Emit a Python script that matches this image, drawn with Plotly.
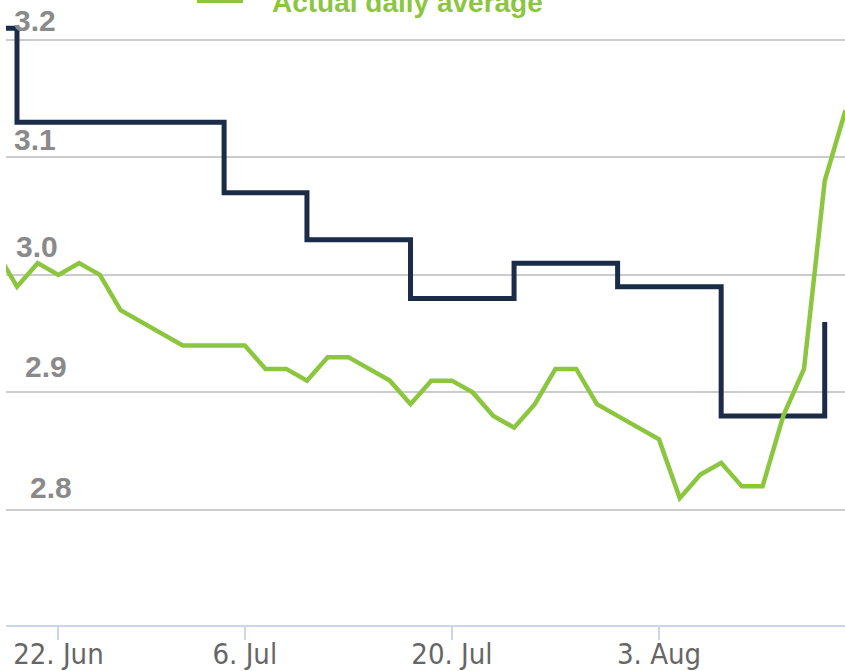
import plotly.graph_objects as go

# ---------------- data ----------------
daily_dates = [
    "2015-06-17", "2015-06-18", "2015-06-19", "2015-06-22", "2015-06-23", "2015-06-24",
    "2015-06-25", "2015-06-26", "2015-06-29", "2015-06-30", "2015-07-01", "2015-07-02",
    "2015-07-06", "2015-07-07", "2015-07-08", "2015-07-09", "2015-07-10", "2015-07-13",
    "2015-07-14", "2015-07-15", "2015-07-16", "2015-07-17", "2015-07-20", "2015-07-21",
    "2015-07-22", "2015-07-23", "2015-07-24", "2015-07-27", "2015-07-28", "2015-07-29",
    "2015-07-30", "2015-07-31", "2015-08-03", "2015-08-04", "2015-08-05", "2015-08-06",
    "2015-08-07", "2015-08-10", "2015-08-11", "2015-08-12", "2015-08-13", "2015-08-14",
]
daily_values = [
    3.02, 2.99, 3.01, 3.00, 3.01, 3.00,
    2.97, 2.96, 2.95, 2.94, 2.94, 2.94,
    2.94, 2.92, 2.92, 2.91, 2.93, 2.93,
    2.92, 2.91, 2.89, 2.91, 2.91, 2.90,
    2.88, 2.87, 2.89, 2.92, 2.92, 2.89,
    2.88, 2.87, 2.86, 2.81, 2.83, 2.84,
    2.82, 2.82, 2.88, 2.92, 3.08, 3.14,
]

weekly_dates = [
    "2015-06-11", "2015-06-18", "2015-06-25", "2015-07-02", "2015-07-09",
    "2015-07-16", "2015-07-23", "2015-07-30", "2015-08-06", "2015-08-13",
]
weekly_values = [3.21, 3.13, 3.13, 3.07, 3.03, 2.98, 3.01, 2.99, 2.88, 2.96]

holidays = ["2015-07-03"]

x_tick_dates = ["2015-06-22", "2015-07-06", "2015-07-20", "2015-08-03"]
x_tick_labels = ["22. Jun", "6. Jul", "20. Jul", "3. Aug"]

y_tick_values = [2.8, 2.9, 3.0, 3.1, 3.2]
y_tick_labels = ["2.8", "2.9", "3.0", "3.1", "3.2"]

legend_label = "Actual daily average"

# ---------------- styles ----------------
GREEN = "#8cc63f"
NAVY = "#1a2c47"
GRID = "#cccccc"
AXIS = "#ccd6eb"
YLAB = "#8a8a8a"
XLAB = "#666666"

W, H = 845, 671
ML, MR, MT, MB = 6, 0, 0, 46
PW = W - ML - MR

# per-label pixel placement (x of left edge, gap above gridline)
ylab_x = [31, 26, 17, 15, 15]
ylab_gap = [11, 14, 17, 6, 8]

fig = go.Figure()

fig.add_trace(go.Scatter(
    x=weekly_dates, y=weekly_values, mode="lines",
    line=dict(color=NAVY, width=5, shape="hv"),
    name="Weekly", showlegend=False, hoverinfo="skip",
))
fig.add_trace(go.Scatter(
    x=daily_dates, y=daily_values, mode="lines",
    line=dict(color=GREEN, width=4.5),
    name=legend_label, showlegend=False, hoverinfo="skip",
))

for v, t, lx, gap in zip(y_tick_values, y_tick_labels, ylab_x, ylab_gap):
    fig.add_annotation(
        x=0, xref="paper", y=v, yref="y", text=t, showarrow=False,
        xanchor="left", yanchor="bottom", xshift=lx - ML - 3, yshift=gap - 7,
        font=dict(family="Liberation Sans, Arial, sans-serif", size=30, color=YLAB, weight="bold"),
    )

# legend (partially cut off at the top of the picture)
fig.add_annotation(
    x=(273 - ML) / PW, xref="paper", y=1, yref="paper", text=legend_label,
    showarrow=False, xanchor="left", yanchor="bottom", yshift=-20, xshift=-3,
    font=dict(family="Liberation Sans, Arial, sans-serif", size=28, color=GREEN, weight="bold"),
)
fig.add_shape(
    type="rect", xref="paper", yref="paper",
    x0=(197 - ML) / PW, x1=(243 - ML) / PW, y0=1 - 3 / (H - MT - MB), y1=1.05,
    fillcolor=GREEN, line=dict(width=0),
)

fig.update_layout(
    width=W, height=H,
    margin=dict(l=ML, r=MR, t=MT, b=MB, autoexpand=False),
    paper_bgcolor="white", plot_bgcolor="white",
    showlegend=False,
    xaxis=dict(
        type="date",
        range=["2015-06-17 11:15", "2015-08-13 23:30"],
        rangebreaks=[dict(bounds=["sat", "mon"]), dict(values=holidays)],
        tickvals=x_tick_dates, ticktext=x_tick_labels,
        ticks="outside", ticklen=13, tickwidth=2, tickcolor=AXIS,
        ticklabelstandoff=-11,
        showline=True, linecolor=AXIS, linewidth=2,
        showgrid=False, zeroline=False,
        tickfont=dict(family="Liberation Sans Narrow, DejaVu Sans Condensed, Liberation Sans, sans-serif",
                      size=29, color=XLAB),
    ),
    yaxis=dict(
        range=[2.702, 3.234],
        tickvals=y_tick_values, showticklabels=False,
        showgrid=True, gridcolor=GRID, gridwidth=2,
        zeroline=False, showline=False, ticks="",
    ),
)

fig.write_html(
    "out.html",
    config={"displayModeBar": False},
    post_script="document.body.style.margin='0';document.body.style.padding='0';",
)
